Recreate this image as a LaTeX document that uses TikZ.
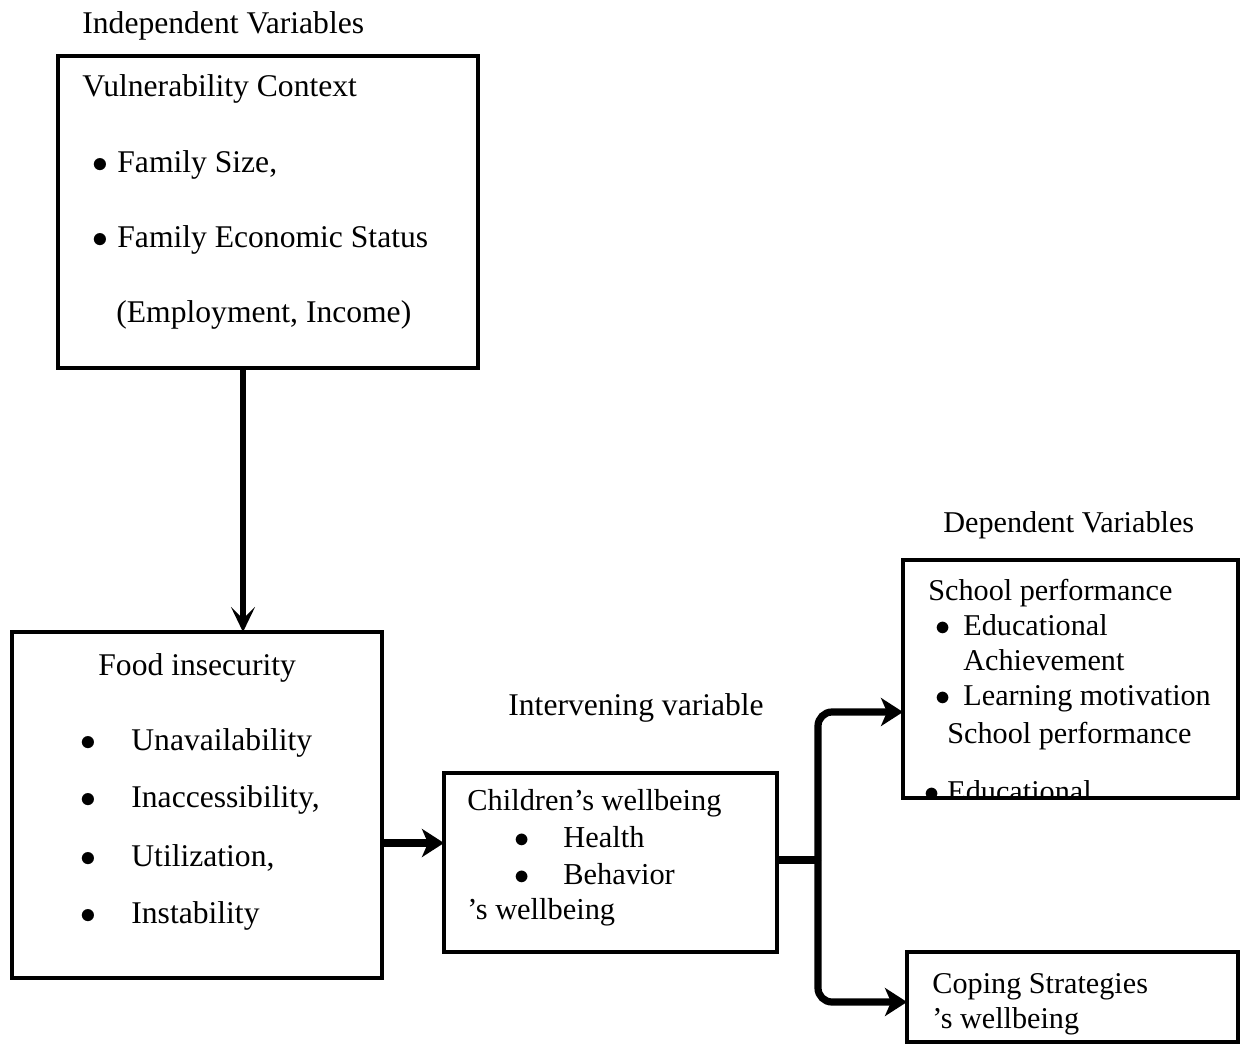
\RequirePackage{fix-cm}
\documentclass[tikz,border=0pt]{standalone}
\usepackage{fontspec}
\setmainfont{Liberation Serif}
\usetikzlibrary{arrows.meta}
\newcommand{\dotmark}{$\bullet$}

\begin{document}
\begin{tikzpicture}[x=0.5pt, y=-0.5pt, font=\fontsize{15.8pt}{19pt}\selectfont,
  box/.style={draw, line width=2.2pt, anchor=north west, inner sep=0pt, outer sep=0pt},
  txt/.style={anchor=base west, inner sep=0pt},
  midtxt/.style={txt, font=\fontsize{15.2pt}{18pt}\selectfont},
  rtxt/.style={txt, font=\fontsize{15.1pt}{18pt}\selectfont},
  flow/.style={line width=3.6pt, -{Stealth[length=11pt, width=14pt, inset=3pt]}},
  down/.style={line width=2.6pt, -{Stealth[length=12.5pt, width=12pt, inset=6pt]}}]
  \useasboundingbox (0,0) rectangle (1240,1043);
  % boxes
  \node[box, minimum width=210pt, minimum height=156pt] (vuln) at (58,56) {};
  \node[box, minimum width=185pt, minimum height=173pt] (food) at (12,632) {};
  \node[box, minimum width=166.5pt, minimum height=89.5pt] (child) at (444,773) {};
  \node[box, minimum width=167.5pt, minimum height=119pt] (school) at (903,560) {};
  \node[box, minimum width=165.5pt, minimum height=45pt] (coping) at (907,952) {};
  % independent variables
  \node[txt] (indep) at (82,34) {Independent Variables};
  \node[txt] (vulnhead) at (82,97) {Vulnerability Context};
  \node[txt] (famsize) at (92,173) {\dotmark\hspace{4.6pt}Family Size,};
  \node[txt] (famecon) at (92,248) {\dotmark\hspace{4.6pt}Family Economic Status};
  \node[txt] (employ) at (116,322) {(Employment, Income)};
  % food insecurity
  \node[txt] (foodhead) at (98,675) {Food insecurity};
  \foreach \y/\w [count=\i] in {750/Unavailability, 807/{Inaccessibility,}, 866/{Utilization,}, 923/Instability}
    \node[txt] (fi\i) at (80,\y) {\dotmark\hspace{17.6pt}\w};
  % intervening variable
  \node[txt] (interv) at (508,715) {Intervening variable};
  \node[midtxt] (childhead) at (467,810) {Children’s wellbeing};
  \node[midtxt] (health) at (514.4,847) {\dotmark\hspace{16.7pt}Health};
  \node[midtxt] (behav) at (514.4,884) {\dotmark\hspace{16.7pt}Behavior};
  \node[midtxt] (childtail) at (467,919) {’s wellbeing};
  % dependent variables
  \node[rtxt] (dep) at (943,532) {Dependent Variables};
  \node[rtxt] (schoolhead) at (928,600) {School performance};
  \node[rtxt] (edu) at (935.5,635) {\dotmark\hspace{6.2pt}Educational};
  \node[rtxt] (achieve) at (963,670) {Achievement};
  \node[rtxt] (learn) at (935.5,705) {\dotmark\hspace{6.2pt}Learning motivation};
  \node[rtxt] (schoolagain) at (947,743) {School performance};
  \begin{scope}
    \clip (905,560) rectangle (1240,796);
    \node[rtxt] (educut) at (924.5,801) {\dotmark\hspace{3.7pt}Educational};
  \end{scope}
  \node[rtxt] (copehead) at (932,993) {Coping Strategies};
  \node[rtxt] (copetail) at (932,1028) {’s wellbeing};
  % arrows
  \coordinate (drop) at (243,0);
  \draw[down] (vuln.south -| drop) -- (food.north -| drop);
  \coordinate (feed) at (0,843);
  \draw[flow] (food.east |- feed) -- (child.west |- feed);
  \coordinate (split) at (818,860);
  \coordinate (upturn) at (818,712);
  \coordinate (downturn) at (818,1002);
  \draw[line width=3.6pt] (child.east |- split) -- (split);
  \draw[flow, rounded corners=7pt] (split) -- (upturn) -- (upturn -| school.west);
  \draw[flow, rounded corners=7pt] (split) -- (downturn) -- (downturn -| coping.west);
\end{tikzpicture}
\end{document}
